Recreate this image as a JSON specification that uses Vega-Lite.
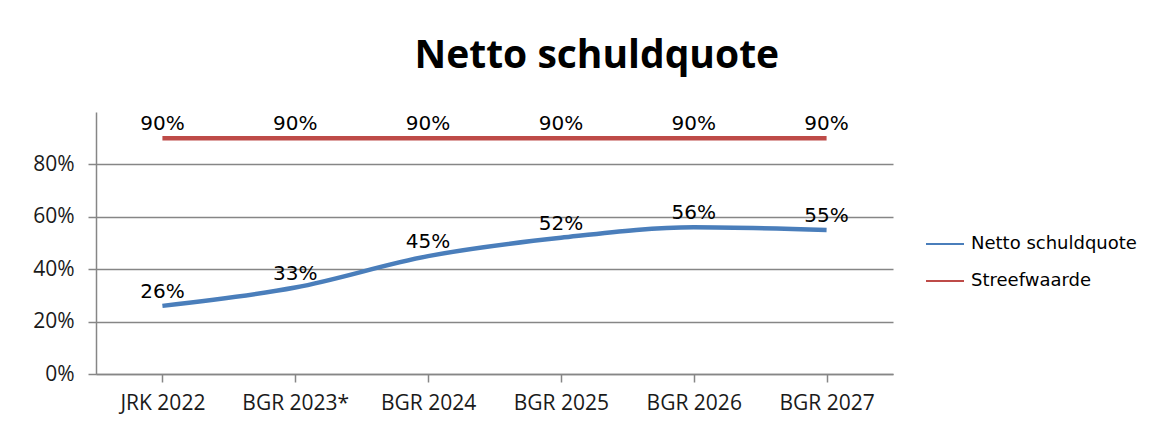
{
  "$schema": "https://vega.github.io/schema/vega-lite/v6.json",
  "width": 797,
  "height": 262,
  "autosize": "none",
  "padding": {"left": 96, "top": 112, "right": 277, "bottom": 49},
  "background": "white",
  "title": {
    "text": "Netto schuldquote",
    "font": "Open Sans",
    "fontSize": 39,
    "fontWeight": "bold",
    "color": "black",
    "anchor": "middle",
    "frame": "bounds",
    "dx": 12,
    "offset": 36
  },
  "data": {
    "values": [
      {"cat": "JRK 2022", "series": "Netto schuldquote", "value": 0.26},
      {"cat": "BGR 2023*", "series": "Netto schuldquote", "value": 0.33},
      {"cat": "BGR 2024", "series": "Netto schuldquote", "value": 0.45},
      {"cat": "BGR 2025", "series": "Netto schuldquote", "value": 0.52},
      {"cat": "BGR 2026", "series": "Netto schuldquote", "value": 0.56},
      {"cat": "BGR 2027", "series": "Netto schuldquote", "value": 0.55},
      {"cat": "JRK 2022", "series": "Streefwaarde", "value": 0.9},
      {"cat": "BGR 2023*", "series": "Streefwaarde", "value": 0.9},
      {"cat": "BGR 2024", "series": "Streefwaarde", "value": 0.9},
      {"cat": "BGR 2025", "series": "Streefwaarde", "value": 0.9},
      {"cat": "BGR 2026", "series": "Streefwaarde", "value": 0.9},
      {"cat": "BGR 2027", "series": "Streefwaarde", "value": 0.9}
    ]
  },
  "encoding": {
    "x": {
      "field": "cat",
      "type": "nominal",
      "sort": null,
      "scale": {"type": "point", "padding": 0.5},
      "axis": {
        "title": null,
        "labelAngle": 0,
        "labelFont": "Open Sans",
        "labelFontSize": 21,
        "labelColor": "#1a1a1a",
        "labelPadding": 10,
        "domainColor": "#868686",
        "domainWidth": 1.5,
        "tickColor": "#868686",
        "tickWidth": 1.5,
        "tickSize": 8,
        "grid": false
      }
    },
    "y": {
      "field": "value",
      "type": "quantitative",
      "scale": {"domain": [0, 1], "nice": false},
      "axis": {
        "title": null,
        "values": [0, 0.2, 0.4, 0.6, 0.8],
        "format": ".0%",
        "labelFont": "Open Sans",
        "labelFontSize": 21,
        "labelColor": "#1a1a1a",
        "labelPadding": 14,
        "domainColor": "#868686",
        "domainWidth": 1.5,
        "tickColor": "#868686",
        "tickWidth": 1.5,
        "tickSize": 8,
        "grid": true,
        "gridColor": "#868686",
        "gridWidth": 1.5
      }
    }
  },
  "layer": [
    {
      "mark": {"type": "line", "strokeWidth": 4.5, "interpolate": "monotone"},
      "encoding": {
        "color": {
          "field": "series",
          "type": "nominal",
          "scale": {"domain": ["Netto schuldquote", "Streefwaarde"], "range": ["#4A7EBB", "#BE4B48"]},
          "legend": {
            "title": null,
            "orient": "none",
            "legendX": 829,
            "legendY": 112,
            "symbolType": "stroke",
            "symbolSize": 1444,
            "symbolStrokeWidth": 2,
            "labelFont": "DejaVu Sans",
            "labelFontSize": 18,
            "labelColor": "black",
            "labelLimit": 300,
            "rowPadding": 8,
            "labelOffset": 6
          }
        }
      }
    },
    {
      "mark": {"type": "text", "font": "DejaVu Sans", "fontSize": 20, "color": "black", "baseline": "bottom", "dy": -4},
      "encoding": {
        "text": {"field": "value", "type": "quantitative", "format": ".0%"}
      }
    }
  ],
  "config": {"view": {"stroke": null}}
}
